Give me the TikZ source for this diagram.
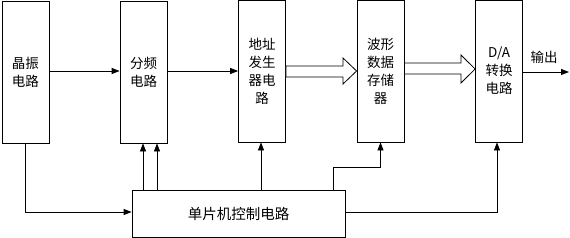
\documentclass[tikz,border=0pt]{standalone}
\usepackage{fontspec}
\setmainfont{Noto Sans CJK SC}
\usetikzlibrary{arrows.meta}
\begin{document}
\begin{tikzpicture}[x=1pt,y=-1pt,line width=0.8pt,
  blk/.style={draw,inner sep=0pt,minimum width=47pt,minimum height=142pt,align=center,font=\fontsize{13.5}{18}\selectfont},
  arr/.style={-{Triangle[length=8pt,width=6pt]}},
  hollow/.style={draw,fill=white,line join=miter}]
\useasboundingbox (0,0) rectangle (570,238);
\node[blk] (b1) at (25.5,72) {晶振\\电路};
\node[blk] (b2) at (143.5,72) {分频\\电路};
\node[blk] (b3) at (262,71) {地址\\发生\\器电\\路};
\node[blk] (b4) at (380.5,71) {波形\\数据\\存储\\器};
\node[blk] (b5) at (499,71) {D/A\\转换\\电路};
\node[draw,inner sep=0pt,minimum width=213pt,minimum height=47pt,font=\fontsize{14.5}{17}\selectfont] (bot) at (238.5,213.5) {单片机控制电路};
\coordinate (out) at (569,72);
\node[font=\fontsize{13.5}{16}\selectfont] (outl) at (544,57) {输出};
% horizontal arrows
\draw[arr] (b1.east |- 0,71) -- (b2.west |- 0,71);
\draw[arr] (b2.east |- 0,71) -- (b3.west |- 0,71);
\draw[arr] (b5.east |- 0,72) -- (out);
% hollow arrows
\draw[hollow] (b3.east |- 0,66) -- (343,66) -- (343,58) -- (b4.west |- 0,71) -- (343,84) -- (343,77) -- (b3.east |- 0,77) -- cycle;
\draw[hollow] (b4.east |- 0,63) -- (461,63) -- (461,55) -- (b5.west |- 0,69) -- (461,83) -- (461,74) -- (b4.east |- 0,74) -- cycle;
% control lines
\draw[arr] (b1.south) -- (25.5,212) -- (bot.west |- 0,212);
\draw[arr] (bot.north -| 143,0) -- (b2.south -| 143,0);
\draw[arr] (bot.north -| 157,0) -- (b2.south -| 157,0);
\draw[arr] (bot.north -| 261,0) -- (b3.south -| 261,0);
\draw[arr] (bot.north -| 333,0) -- (333,167.5) -- (380.5,167.5) -- (b4.south);
\draw[arr] (bot.east |- 0,212) -- (497,212) -- (b5.south -| 497,0);
\end{tikzpicture}
\end{document}
